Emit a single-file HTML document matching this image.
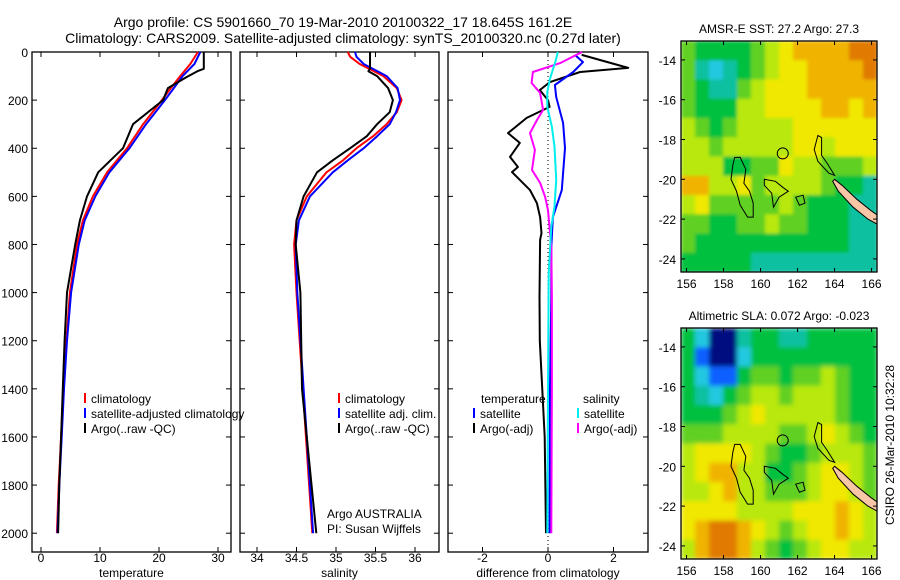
<!DOCTYPE html>
<html><head><meta charset="utf-8"><style>
body{margin:0;background:#fff}
svg{display:block;font-family:"Liberation Sans",sans-serif}
</style></head><body>
<svg id="c" width="900" height="580" viewBox="0 0 900 580" xmlns="http://www.w3.org/2000/svg">
<defs>
<clipPath id="clip1"><rect x="681" y="41" width="196" height="231"/></clipPath>
<clipPath id="clip2"><rect x="681" y="328" width="196" height="231"/></clipPath>
<filter id="blur" x="0" y="0" width="1" height="1"><feGaussianBlur stdDeviation="2.5" edgeMode="duplicate"/></filter>
<filter id="blur1" x="0" y="0" width="1" height="1"><feGaussianBlur stdDeviation="1.5" edgeMode="duplicate"/></filter>
</defs>
<text x="343" y="27" font-size="14" text-anchor="middle">Argo profile: CS 5901660_70 19-Mar-2010 20100322_17 18.645S 161.2E</text>
<text x="343" y="43" font-size="14" text-anchor="middle">Climatology: CARS2009. Satellite-adjusted climatology: synTS_20100320.nc (0.27d later)</text>
<text x="894" y="445" font-size="12" text-anchor="middle" transform="rotate(-90 894 445)">CSIRO 26-Mar-2010 10:32:28</text>
<g id="g"></g>
</svg>
<script>
// ---- profile data ----
const tDepth=[0,50,100,150,200,300,400,500,600,700,800,1000,1200,1400,1600,1800,2000];
const tClim=[26.6,25.3,23.6,22.0,20.5,17.3,14.6,11.2,8.8,7.1,6.1,4.9,4.3,3.8,3.4,3.0,2.7];
const tSat=[27.0,26.0,24.0,22.5,21.0,17.8,15.0,11.6,9.2,7.4,6.4,5.1,4.4,3.9,3.5,3.1,2.8];
const aDepth=[0,70,80,104,150,200,300,400,500,600,700,800,1000,1200,1400,1600,1800,2000];
const tArgo=[27.6,27.6,26.5,24.7,21.5,20.7,15.6,13.9,9.7,7.8,6.6,5.8,4.4,4.0,3.7,3.4,3.1,2.9];
const sDepth=[0,20,50,100,150,200,250,300,350,400,450,500,600,700,800,1000,1400,2000];
const sClim=[35.15,35.18,35.3,35.6,35.77,35.83,35.77,35.64,35.47,35.26,35.09,34.88,34.63,34.5,34.47,34.5,34.58,34.7];
const sSat=[35.24,35.26,35.35,35.64,35.78,35.81,35.76,35.68,35.52,35.35,35.15,34.96,34.67,34.53,34.49,34.51,34.59,34.71];
const saDepth=[0,70,80,100,150,200,250,300,350,400,450,500,600,700,800,1000,1400,2000];
const sArgo=[35.43,35.43,35.41,35.52,35.66,35.72,35.68,35.52,35.39,35.18,34.96,34.76,34.59,34.5,34.49,34.55,34.57,34.75];
const dtDepth=[12,66,83,125,158,200,228,274,337,378,436,478,499,574,628,686,753,781,1018,1200,1600,2000];
const dtArgo=[1.03,2.45,0.98,0.06,-0.25,0,0.05,-0.65,-1.22,-0.86,-1.16,-0.92,-1.1,-0.55,-0.34,-0.24,-0.2,-0.24,-0.26,-0.25,-0.1,-0.06];
const dtsDepth=[12,42,83,137,187,295,399,574,686,810,1018,1400,2000];
const dtSat=[0.82,1.07,0.77,0.21,0.25,0.46,0.52,0.42,0.15,0.1,0.1,0.06,0.05];
const dsDepth=[0,46,83,129,170,241,283,337,407,490,544,602,657,810,1018,1400,2000];
const dsArgo=[1.04,0.37,-0.46,-0.5,-0.24,-0.15,-0.34,-0.55,-0.4,-0.49,-0.24,-0.09,0,0.1,0.12,0.12,0.1];
const dssDepth=[0,33,111,166,228,311,394,532,643,726,920,1400,2000];
const dsSat=[0.3,0.24,0.06,-0.02,-0.02,0.12,0.2,0.25,0.2,0.1,0.02,0.0,-0.02];
const depthTicks=[0,200,400,600,800,1000,1200,1400,1600,1800,2000];
const tTicks=[0,10,20,30], sTicks=[34,34.5,35,35.5,36], dTicks=[-2,0,2];
// ---- map data (rows north->south, digits = colour class) ----
const sstRows=["54444567888899","53234567788889","54335677788888","54446677778878","65456666777777","66566666776777","66644557665556","88667566665443","67555556544433","55445565544433","54444444444433","44444333333333"];
const slaRows=["42003443344444","41002444444444","42114554556544","43245665666544","44456766666544","55566665567654","67777654456665","67886644567765","66786655567765","77776666777876","78998765677876","68998654567766"];
const mapColors=["#000a80","#1060ff","#20c8e0","#10c0a0","#00c040","#60d020","#b8e810","#f0e800","#f0b400","#e07a00"];
const latTicks=[-14,-16,-18,-20,-22,-24], lonTicks=[156,158,160,162,164,166];
const coastW=[[158.6,-18.9],[158.9,-18.9],[159.2,-19.5],[159.1,-20.2],[159.4,-20.6],[159.6,-21.2],[159.6,-21.9],[159.3,-21.9],[158.9,-21.3],[158.7,-20.6],[158.4,-20.0],[158.5,-19.3],[158.6,-18.9]];
const coastM=[[160.2,-20.0],[160.8,-20.1],[161.2,-20.4],[161.5,-20.6],[161.0,-20.9],[160.7,-21.4],[160.6,-20.7],[160.2,-20.3],[160.2,-20.0]];
const coastS=[[161.9,-20.9],[162.3,-20.8],[162.4,-21.2],[162.1,-21.3],[161.9,-20.9]];
const coastE=[[163.1,-17.8],[163.3,-17.9],[163.3,-18.8],[163.6,-19.2],[164.0,-19.8],[163.7,-19.7],[163.1,-19.1],[162.9,-18.5],[163.1,-17.8]];
const newCal=[[164.0,-20.0],[164.4,-20.3],[165.2,-21.0],[166.0,-21.6],[166.8,-22.1],[166.8,-22.5],[165.8,-22.0],[165.0,-21.4],[164.2,-20.6],[163.9,-20.1]];
const floatPos=[161.2,-18.7];

const NS="http://www.w3.org/2000/svg", G=document.getElementById('g');
function mk(t,a,p){const e=document.createElementNS(NS,t);for(const k in a)e.setAttribute(k,a[k]);(p||G).appendChild(e);return e;}
const yD=d=>52+d*0.2406;
const panels=[
 {x0:32,x1:231,f:v=>41+v*5.9,ticks:tTicks,lab:'temperature',name:'temperature'},
 {x0:240,x1:439,f:v=>257+(v-34)*79,ticks:sTicks,lab:'salinity',name:'salinity'},
 {x0:448,x1:648,f:v=>548+v*32.75,ticks:dTicks,lab:'difference from climatology',name:'difference'}];
panels.forEach((p,i)=>{
 const r=mk('rect',{x:p.x0,y:52,width:p.x1-p.x0,height:500,fill:'none',stroke:'#000','stroke-width':1.3});
 
 
 depthTicks.forEach(d=>{const y=yD(d);
  mk('line',{x1:p.x0,x2:p.x0+5,y1:y,y2:y,stroke:'#000'});
  mk('line',{x1:p.x1-5,x2:p.x1,y1:y,y2:y,stroke:'#000'});
  if(i==0){const t=mk('text',{x:p.x0-4,y:y+5,'font-size':12,'text-anchor':'end'});t.textContent=d;
   
   }
 });
 p.ticks.forEach(v=>{const x=p.f(v);
  mk('line',{x1:x,x2:x,y1:52,y2:57,stroke:'#000'});
  mk('line',{x1:x,x2:x,y1:547,y2:552,stroke:'#000'});
  const t=mk('text',{x:x,y:562,'font-size':12,'text-anchor':'middle'});t.textContent=v;
  
  });
 const t=mk('text',{x:(p.x0+p.x1)/2,y:577,'font-size':12,'text-anchor':'middle'});t.textContent=p.lab;
 
 
});
function line(p,D,V,col,name){
 const pts=D.map((d,k)=>p.f(V[k]).toFixed(1)+','+yD(d).toFixed(1)).join(' ');
 const e=mk('polyline',{points:pts,fill:'none',stroke:col,'stroke-width':2,'stroke-linejoin':'round'});
 
 
}
mk('line',{x1:548,x2:548,y1:52,y2:552,stroke:'#000','stroke-dasharray':'1,3'});
line(panels[0],tDepth,tClim,'#f00','temp-climatology-line');
line(panels[0],tDepth,tSat,'#00f','temp-satellite-line');
line(panels[0],aDepth,tArgo,'#000','temp-argo-line');
line(panels[1],sDepth,sClim,'#f00','sal-climatology-line');
line(panels[1],sDepth,sSat,'#00f','sal-satellite-line');
line(panels[1],saDepth,sArgo,'#000','sal-argo-line');
line(panels[2],dtDepth,dtArgo,'#000','diff-temp-argo-line');
line(panels[2],dtsDepth,dtSat,'#00f','diff-temp-satellite-line');
line(panels[2],dsDepth,dsArgo,'#f0f','diff-sal-argo-line');
line(panels[2],dssDepth,dsSat,'#0ee','diff-sal-satellite-line');
function leg(x,y,col,txt,name){
 mk('line',{x1:x,x2:x,y1:y-10,y2:y,stroke:col,'stroke-width':2});
 if(txt){const t=mk('text',{x:x+6,y:y,'font-size':12});t.textContent=txt;}
 const r=mk('rect',{x:x-2,y:y-11,width:120,height:13,fill:'transparent'});
 
 
}
leg(85,403,'#f00','climatology','legend-climatology');
leg(85,418,'#00f','satellite-adjusted climatology','legend-satellite-adjusted');
leg(85,433,'#000','Argo(..raw -QC)','legend-argo');
leg(339,403,'#f00','climatology','legend2-climatology');
leg(339,418,'#00f','satellite adj. clim.','legend2-satellite');
leg(339,433,'#000','Argo(..raw -QC)','legend2-argo');
[['temperature',481,403],['salinity',583,403]].forEach(a=>{const t=mk('text',{x:a[1],y:a[2],'font-size':12});t.textContent=a[0];});
leg(474,418,'#00f','satellite','legend3-temp-satellite');
leg(474,433,'#000','Argo(-adj)','legend3-temp-argo');
leg(578,418,'#0ee','satellite','legend3-sal-satellite');
leg(578,433,'#f0f','Argo(-adj)','legend3-sal-argo');
[['Argo AUSTRALIA',518],['PI: Susan Wijffels',533]].forEach(a=>{const t=mk('text',{x:327,y:a[1],'font-size':12});t.textContent=a[0];
 
 });
// ---- maps ----
function drawMap(top,rows,title,name,clip,filt){
 const L=681,R=877,B=top+231,lon0=155.7,lat0=-13.05;
 const X=lo=>L+(lo-lon0)*18.5, Y=la=>top+(lat0-la)*19.9;
 const g=mk('g',{});
 
 
 const cg=mk('g',{'clip-path':'url(#'+clip+')'},g);
 const hg=mk('g',{filter:'url(#'+filt+')'},cg);
 const nr=rows.length,nc=rows[0].length,cw=(R-L)/nc,ch=231/nr;
 rows.forEach((row,j)=>{[...row].forEach((c,i)=>{
  mk('rect',{x:L+i*cw,y:top+j*ch,width:cw+0.6,height:ch+0.6,fill:mapColors[+c]},hg);});});
 const pl=(P,fill,name)=>{const e=mk('polygon',{points:P.map(q=>X(q[0]).toFixed(1)+','+Y(q[1]).toFixed(1)).join(' '),fill:fill,stroke:'#000','stroke-width':1},cg);
  
  };
 pl(coastW,'none','coast-chesterfield-west');pl(coastM,'none','coast-middle');pl(coastS,'none','coast-small');pl(coastE,'none','coast-east');
 pl(newCal,'#f7c6a6','new-caledonia');
 const c=mk('circle',{cx:X(floatPos[0]),cy:Y(floatPos[1]),r:5.5,fill:'none',stroke:'#000','stroke-width':1},g);
 
 
 mk('rect',{x:L,y:top,width:R-L,height:231,fill:'none',stroke:'#000','stroke-width':1.3},g);
 latTicks.forEach(la=>{const y=Y(la);
  mk('line',{x1:L,x2:L+4,y1:y,y2:y,stroke:'#000'},g);mk('line',{x1:R-4,x2:R,y1:y,y2:y,stroke:'#000'},g);
  const t=mk('text',{x:L-5,y:y+5,'font-size':12,'text-anchor':'end'},g);t.textContent=la;});
 lonTicks.forEach(lo=>{const x=X(lo);
  mk('line',{x1:x,x2:x,y1:B-4,y2:B,stroke:'#000'},g);mk('line',{x1:x,x2:x,y1:top,y2:top+4,stroke:'#000'},g);
  const t=mk('text',{x:x,y:B+16,'font-size':12,'text-anchor':'middle'},g);t.textContent=lo;});
 const t=mk('text',{x:(L+R)/2,y:top-8,'font-size':12,'text-anchor':'middle'},g);t.textContent=title;
}
drawMap(41,sstRows,'AMSR-E SST: 27.2 Argo: 27.3','sst-map','clip1','blur1');
drawMap(328,slaRows,'Altimetric SLA: 0.072 Argo: -0.023','sla-map','clip2','blur');
</script>
</body></html>
